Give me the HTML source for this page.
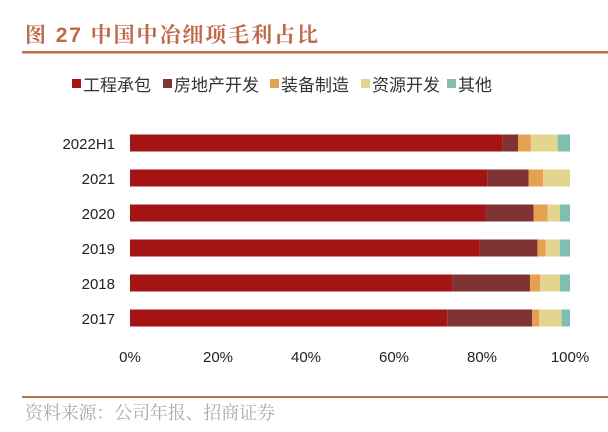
<!DOCTYPE html>
<html><head><meta charset="utf-8"><style>
body{margin:0;width:608px;height:432px;background:#fff;overflow:hidden;font-family:"Liberation Sans","Noto Sans CJK SC",sans-serif;}
</style></head><body>
<svg width="608" height="432" id="svg" style="position:absolute;left:0;top:0">
<text x="25" y="42" font-size="21" font-weight="bold" fill="#c0694a" textLength="293" font-family="'Liberation Sans','Noto Serif CJK SC',serif">图 27 中国中冶细项毛利占比</text>
<rect x="22" y="51" width="586" height="2.5" fill="#c0704f"/>
<g id="legend"></g>
<g id="bars"></g>
<g id="xaxis"></g>
<g id="yaxis"></g>
<rect x="22" y="396" width="586" height="2" fill="#c0704f"/>
<text x="25" y="419" font-size="18" fill="#aaa" textLength="250" font-family="'Liberation Serif','Noto Serif CJK SC',serif">资料来源：公司年报、招商证券</text>
</svg>
<script>
const categories=["2022H1","2021","2020","2019","2018","2017"];
const seriesNames=["工程承包","房地产开发","装备制造","资源开发","其他"];
const engineering=[84.7,81.2,80.8,79.5,73.2,72.1];
const realEstate=[3.5,9.4,10.9,13.1,17.7,19.3];
const equipment=[2.9,3.3,3.2,1.9,2.3,1.6];
const resources=[6.1,6.1,2.8,3.2,4.5,5.1];
const others=[2.8,0,2.3,2.3,2.3,1.9];
const xTicks=[0,20,40,60,80,100];
const colors=["#a31515","#7f3333","#e5a050","#e3d58f","#7fbfb1"];
const NS="http://www.w3.org/2000/svg";
const x0=130,x1=570;
const X=v=>x0+(x1-x0)*v/100;
const rowY=i=>143+i*35;
function mk(t,a,p){const e=document.createElementNS(NS,t);for(const k in a)e.setAttribute(k,a[k]);p.appendChild(e);return e;}
const series=[engineering,realEstate,equipment,resources,others];
const bars=document.getElementById('bars');
categories.forEach((c,i)=>{
  let acc=0;
  series.forEach((s,j)=>{
    const v=s[i];if(v<=0)return;
    const r=mk('rect',{x:X(acc),y:rowY(i)-8.5,width:X(acc+v)-X(acc),height:17,fill:colors[j]},bars);
    
    
    acc+=v;
  });
  const t=mk('text',{x:115,y:rowY(i)+6,'text-anchor':'end','font-size':15,fill:'#222'},document.getElementById('yaxis'));
  t.textContent=c;
  
  
});
const xa=document.getElementById('xaxis');
xTicks.forEach(v=>{
  const t=mk('text',{x:X(v),y:362,'text-anchor':'middle','font-size':15,fill:'#222'},xa);
  t.textContent=v+'%';
  
  
});
const lg=document.getElementById('legend');
const lx=[72,163,270,361,447];
seriesNames.forEach((n,j)=>{
  const g=mk('g',{},lg);
  
  
  mk('rect',{x:lx[j],y:79,width:9,height:9,fill:colors[j]},g);
  const t=mk('text',{x:lx[j]+11,y:91,'font-size':17,fill:'#333'},g);
  t.textContent=n;
});
</script>
</body></html>
